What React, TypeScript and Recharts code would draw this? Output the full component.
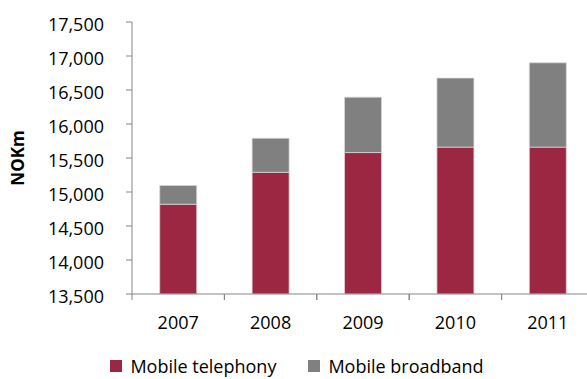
import { BarChart, Bar, XAxis, YAxis, Legend } from 'recharts';

const years = ['2007', '2008', '2009', '2010', '2011'];
const mobileTelephony = [14820, 15290, 15580, 15660, 15660];
const mobileBroadband = [275, 500, 815, 1015, 1240];
const yTicks = [13500, 14000, 14500, 15000, 15500, 16000, 16500, 17000, 17500];

const series = [
  { key: 'telephony', name: 'Mobile telephony', color: '#9B2743' },
  { key: 'broadband', name: 'Mobile broadband', color: '#808080' },
];

const data = years.map((year, i) => ({
  year,
  telephony: mobileTelephony[i],
  broadband: mobileBroadband[i],
}));

const FONT = '"Open Sans", sans-serif';
const AXIS_GREY = '#868686';

const formatThousands = (v: number) => v.toLocaleString('en-US');

const LegendContent = () => (
  <div
    style={{
      display: 'flex',
      justifyContent: 'center',
      gap: 32,
      paddingTop: 12,
      fontFamily: FONT,
      fontSize: 18,
      lineHeight: '20px',
      color: '#000',
    }}
  >
    {series.map((s) => (
      <span key={s.key} style={{ display: 'flex', alignItems: 'center' }}>
        <span style={{ width: 12, height: 12, background: s.color, marginRight: 8, display: 'inline-block' }} />
        {s.name}
      </span>
    ))}
  </div>
);

// Excel-style category axis: tick marks sit between categories, label in the middle
const YearTick = ({ x, y, payload }: any) => {
  const half = payload.offset || 0;
  return (
    <g>
      <line x1={x - half} x2={x - half} y1={y} y2={y + 6} stroke={AXIS_GREY} />
      <line x1={x + half} x2={x + half} y1={y} y2={y + 6} stroke={AXIS_GREY} />
      <text x={x} y={y + 22} dy="0.71em" textAnchor="middle" fill="#000" fontSize={18} fontFamily={FONT}>
        {payload.value}
      </text>
    </g>
  );
};

export default function App() {
  return (
    <div style={{ position: 'fixed', left: 0, top: 0, width: 587, height: 379, overflow: 'hidden', background: '#fff', fontFamily: FONT }}>
      <BarChart
        width={600}
        height={390}
        data={data}
        margin={{ top: 22, right: 6, left: 0, bottom: 0 }}
        barCategoryGap="30%"
      >
        <XAxis
          dataKey="year"
          height={50}
          axisLine={{ stroke: AXIS_GREY }}
          tickLine={false}
          tickSize={0}
          tickMargin={0}
          tick={<YearTick />}
        />
        <YAxis
          width={132}
          domain={[13500, 17500]}
          ticks={yTicks}
          allowDataOverflow
          axisLine={{ stroke: AXIS_GREY }}
          tickLine={{ stroke: AXIS_GREY }}
          tickSize={6}
          tickMargin={22}
          tickFormatter={formatThousands}
          tick={{ fill: '#000', fontSize: 18, fontFamily: FONT, dy: 3 }}
          label={{
            value: 'NOKm',
            angle: -90,
            position: 'center',
            dx: -48,
            style: { fontWeight: 'bold', fontSize: 17, fill: '#000', fontFamily: FONT },
          }}
        />
        <Legend verticalAlign="bottom" height={46} content={<LegendContent />} />
        {series.map((s) => (
          <Bar
            key={s.key}
            dataKey={s.key}
            name={s.name}
            stackId="a"
            fill={s.color}
            stroke={s.key === 'telephony' ? '#e2d5d8' : '#d8d8d8'}
            strokeWidth={0.75}
            isAnimationActive={false}
          />
        ))}
      </BarChart>
    </div>
  );
}
